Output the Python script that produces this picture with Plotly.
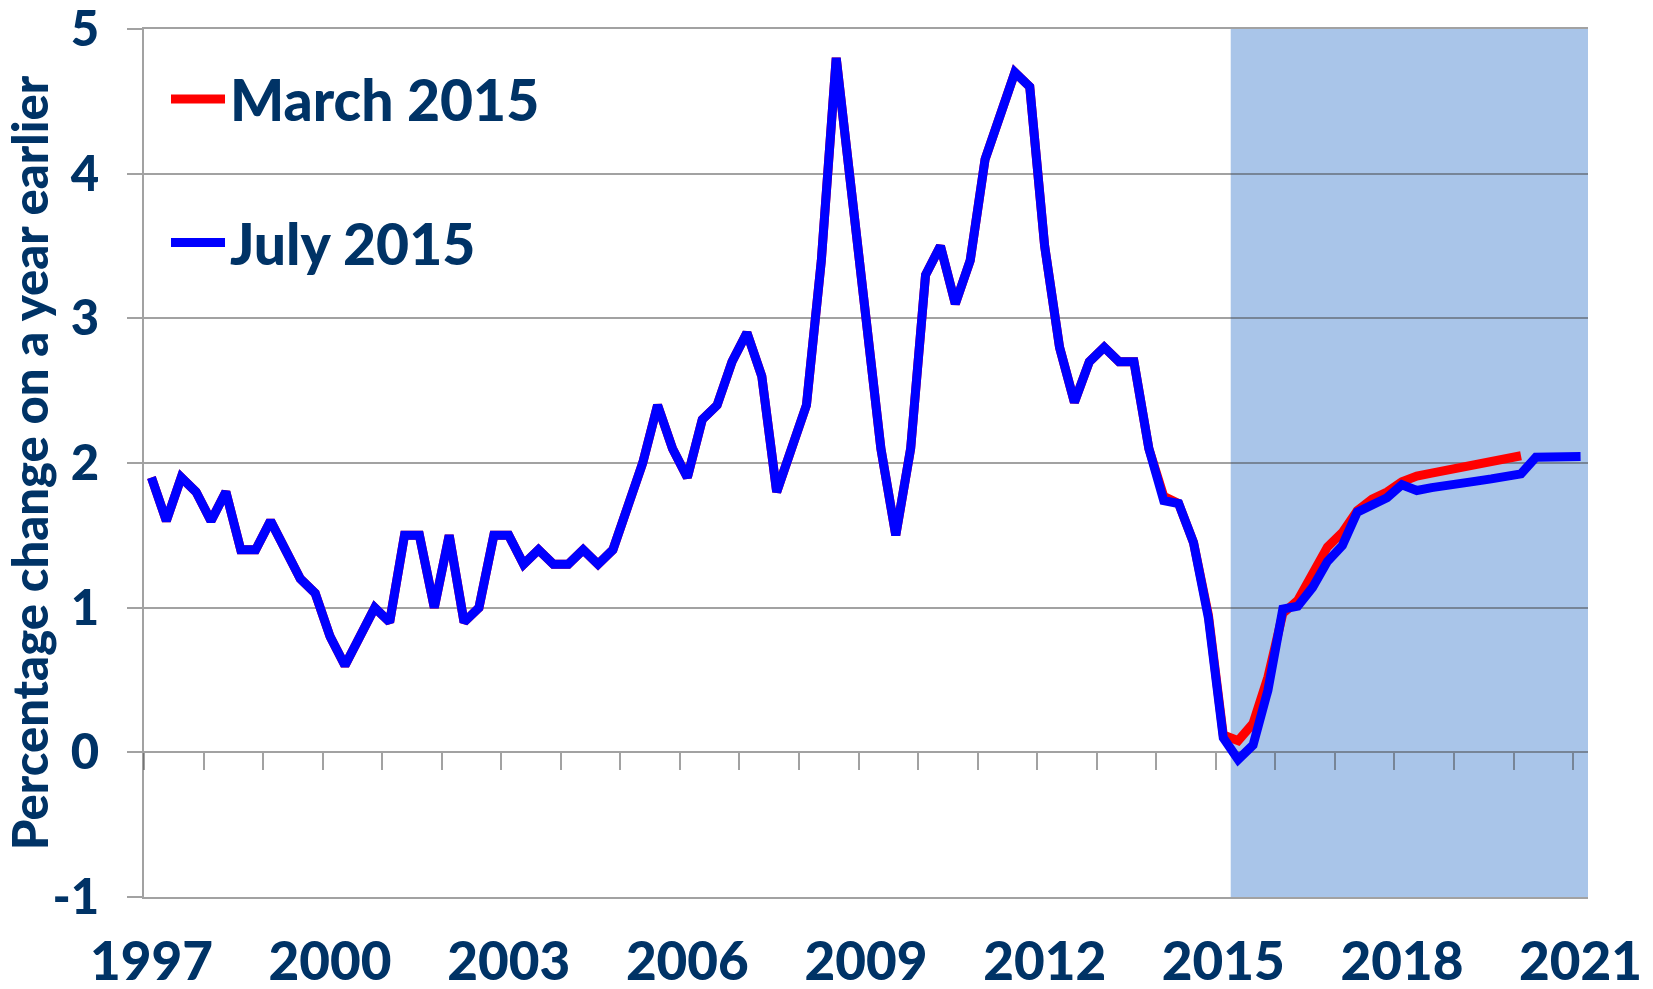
import plotly.graph_objects as go

# ---- data ----
quarters_start = 1997  # 1997Q1 .. 2021Q1, quarterly
july_2015 = [
    1.9, 1.6, 1.9, 1.8,      # 1997
    1.6, 1.8, 1.4, 1.4,      # 1998
    1.6, 1.4, 1.2, 1.1,      # 1999
    0.8, 0.6, 0.8, 1.0,      # 2000
    0.9, 1.5, 1.5, 1.0,      # 2001
    1.5, 0.9, 1.0, 1.5,      # 2002
    1.5, 1.3, 1.4, 1.3,      # 2003
    1.3, 1.4, 1.3, 1.4,      # 2004
    1.7, 2.0, 2.4, 2.1,      # 2005
    1.9, 2.3, 2.4, 2.7,      # 2006
    2.9, 2.6, 1.8, 2.1,      # 2007
    2.4, 3.4, 4.8, 3.9,      # 2008
    3.0, 2.1, 1.5, 2.1,      # 2009
    3.3, 3.5, 3.1, 3.4,      # 2010
    4.1, 4.4, 4.7, 4.6,      # 2011
    3.5, 2.8, 2.42, 2.7,     # 2012
    2.8, 2.7, 2.7, 2.1,      # 2013
    1.74, 1.72, 1.45, 0.93,  # 2014
    0.1, -0.05, 0.05, 0.43,  # 2015
    0.99, 1.01, 1.14, 1.32,  # 2016
    1.43, 1.66, 1.71, 1.76,  # 2017
    1.85, 1.81, 1.83, 1.85,  # 2018
    1.86, 1.875, 1.89, 1.90, # 2019
    1.925, 2.04, 2.04, 2.045,# 2020
    2.045,                   # 2021
]
march_2015 = july_2015[:68] + [
    1.77, 1.72, 1.45, 0.95,  # 2014
    0.12, 0.08, 0.2, 0.52,   # 2015
    0.96, 1.05, 1.24, 1.42,  # 2016
    1.52, 1.67, 1.75, 1.80,  # 2017
    1.87, 1.91, 1.93, 1.95,  # 2018
    1.97, 2.0, 2.02, 2.04,   # 2019
    2.05,                    # 2020Q1
]
series_names = ["March 2015", "July 2015"]
series_colors = ["#FF0000", "#0000FF"]
year_labels = ["1997", "2000", "2003", "2006", "2009", "2012", "2015", "2018", "2021"]
y_ticks = [-1, 0, 1, 2, 3, 4, 5]
y_labels = ["-1", "0", "1", "2", "3", "4", "5"]
forecast_start, forecast_end = 2015.25, 2021.25


def qx(n):
    return [quarters_start + i * 0.25 + 0.125 for i in range(n)]


NAVY = "#003366"
GRID = "rgba(70,70,70,0.5)"
FONT = "Lato, 'Open Sans', sans-serif"
W = 900

fig = go.Figure()
for name, color, vals in zip(series_names, series_colors, [march_2015, july_2015]):
    fig.add_trace(go.Scatter(x=qx(len(vals)), y=vals, mode="lines", name=name,
                             showlegend=False, line=dict(color=color, width=9)))
# helper trace for the year tick marks along the zero line
fig.add_trace(go.Scatter(x=[1997], y=[0], xaxis="x2", mode="lines",
                         showlegend=False, hoverinfo="skip"))

fig.add_shape(type="rect", xref="x", yref="y", x0=forecast_start, x1=forecast_end,
              y0=-1, y1=5, fillcolor="#A9C5E9", line=dict(width=0), layer="below")

# legend (drawn as key lines + labels at the upper left of the plot)
legend_y = [0.9194, 0.754]
for name, color, ly in zip(series_names, series_colors, legend_y):
    fig.add_shape(type="line", xref="paper", yref="paper", x0=0.0187, x1=0.0561,
                  y0=ly, y1=ly, line=dict(color=color, width=9))
    fig.add_annotation(xref="paper", yref="paper", x=0.0585, y=ly, text=name,
                       showarrow=False, xanchor="left", yanchor="middle",
                       font=dict(size=57, color=NAVY, family=FONT, weight=W))

fig.update_layout(
    width=1653, height=989,
    margin=dict(l=144, r=65, t=29, b=92, autoexpand=False),
    paper_bgcolor="white", plot_bgcolor="white",
    font=dict(family=FONT, color=NAVY, weight=W),
    showlegend=False,
    xaxis=dict(range=[1997, 2021.25],
               tickvals=[int(y) + 0.125 for y in year_labels], ticktext=year_labels,
               ticks="", showgrid=False, zeroline=False,
               showline=True, mirror=True, linecolor=GRID, linewidth=2,
               tickfont=dict(size=53, color=NAVY, family=FONT, weight=W),
               ticklabelstandoff=17, ticklabeloverflow="allow"),
    xaxis2=dict(overlaying="x", anchor="free", position=1 / 6, side="bottom",
                range=[1997, 2021.25], tickvals=list(range(1997, 2022)),
                ticks="outside", ticklen=17, tickwidth=2, tickcolor=GRID,
                showticklabels=False, showgrid=False, zeroline=False, showline=False),
    yaxis=dict(range=[-1, 5], tickvals=y_ticks, ticktext=y_labels,
               showgrid=True, gridcolor=GRID,
               gridwidth=2, zeroline=False, showline=True, linecolor=GRID, linewidth=2,
               ticks="outside", ticklen=15, tickwidth=2, tickcolor=GRID,
               tickfont=dict(size=49, color=NAVY, family=FONT, weight=W),
               ticklabelstandoff=18, ticklabeloverflow="allow",
               title=dict(text="Percentage change on a year earlier",
                          font=dict(size=49, color=NAVY, family=FONT, weight=W),
                          standoff=0)),
)

fig.write_html("out.html", config={"displayModeBar": False},
               post_script="document.body.style.margin='0';")
